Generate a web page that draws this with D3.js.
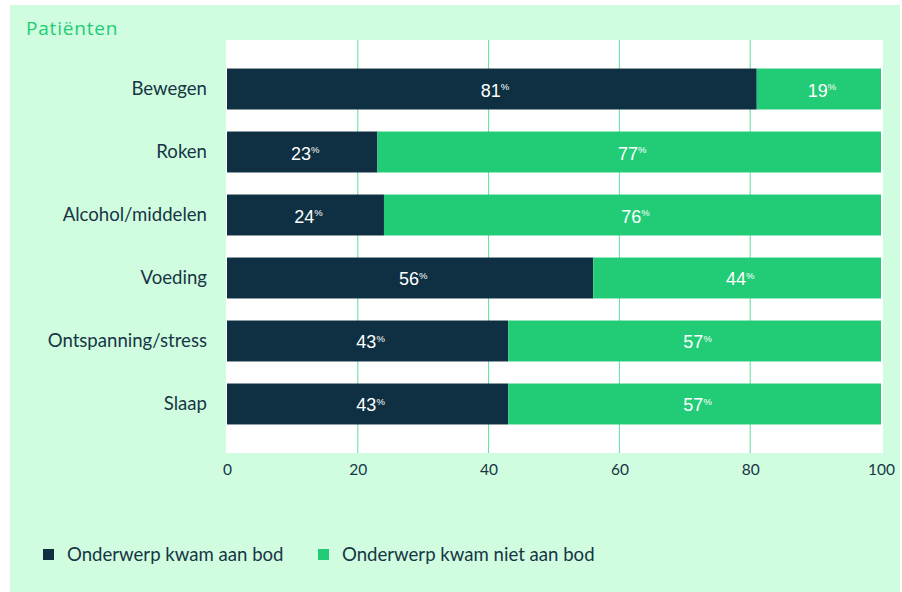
<!DOCTYPE html>
<html>
<head>
<meta charset="utf-8">
<script src="https://cdn.jsdelivr.net/npm/d3@7"></script>
<style>
  html, body { margin: 0; padding: 0; background: #ffffff; }
  svg { display: block; }
</style>
</head>
<body>
<svg id="chart" width="902" height="592"></svg>
<script>
// Lifestyle topics discussed with patients (percentages)
const categories = ["Bewegen", "Roken", "Alcohol/middelen", "Voeding", "Ontspanning/stress", "Slaap"];
const discussed = [81, 23, 24, 56, 43, 43];
const notDiscussed = [19, 77, 76, 44, 57, 57];
const seriesNames = ["Onderwerp kwam aan bod", "Onderwerp kwam niet aan bod"];
const tickValues = [0, 20, 40, 60, 80, 100];
const title = "Patiënten";

const colors = ["#0e3042", "#22cc77"];
const textDark = "#173545";

const svg = d3.select("#chart");

// panel background
svg.append("rect")
  .attr("x", 10).attr("y", 5).attr("width", 890).attr("height", 587)
  .attr("fill", "#d0fddf");

svg.append("text")
  .attr("x", 26).attr("y", 35)
  .attr("font-family", "'Open Sans', sans-serif")
  .attr("font-size", 19)
  .attr("letter-spacing", 0.8)
  .attr("fill", "#22cc77")
  .text(title);

const plot = { left: 226, right: 883, top: 40, bottom: 453 };

const x = d3.scaleLinear().domain([0, 100]).range([227, 881]);
const y = d3.scaleBand().domain(categories)
  .range([plot.top, plot.bottom])
  .paddingInner(0.35).paddingOuter(0.453);

// white plot area
svg.append("rect")
  .attr("x", plot.left).attr("y", plot.top)
  .attr("width", plot.right - plot.left).attr("height", plot.bottom - plot.top)
  .attr("fill", "#ffffff");

// vertical gridlines
svg.append("g").selectAll("line")
  .data(tickValues.filter(v => v > 0 && v < 100))
  .join("line")
  .attr("x1", d => x(d)).attr("x2", d => x(d))
  .attr("y1", plot.top).attr("y2", plot.bottom)
  .attr("stroke", "#5fdc9c").attr("stroke-width", 1);

// stacked series
const rows = categories.map((c, i) => ({ cat: c, a: discussed[i], b: notDiscussed[i] }));
const stack = d3.stack().keys(["a", "b"])(rows);

const layers = svg.append("g").selectAll("g")
  .data(stack).join("g")
  .attr("fill", (d, i) => colors[i]);

layers.selectAll("rect")
  .data(d => d)
  .join("rect")
  .attr("x", d => x(d[0]))
  .attr("y", d => y(d.data.cat))
  .attr("width", d => x(d[1]) - x(d[0]))
  .attr("height", y.bandwidth());

// value labels
const labels = svg.append("g");
stack.forEach(layer => {
  layer.forEach(d => {
    const v = d[1] - d[0];
    const t = labels.append("text")
      .attr("x", (x(d[0]) + x(d[1])) / 2 + 3)
      .attr("y", y(d.data.cat) + y.bandwidth() / 2 + 7.5)
      .attr("text-anchor", "middle")
      .attr("font-family", "'Liberation Sans', Arial, sans-serif")
      .attr("font-size", 18)
      .attr("fill", "#ffffff");
    t.append("tspan").text(v);
    t.append("tspan").attr("font-size", 9.5).attr("dy", -6.5).text("%");
  });
});

// category labels
svg.append("g").selectAll("text")
  .data(categories).join("text")
  .attr("x", 207)
  .attr("y", d => y(d) + y.bandwidth() / 2 + 6)
  .attr("text-anchor", "end")
  .attr("font-family", "Lato, sans-serif")
  .attr("font-size", 18.6)
  .attr("fill", textDark)
  .text(d => d);

// x axis tick labels
const xAxis = d3.axisBottom(x).tickValues(tickValues).tickSize(0).tickPadding(0);
const ax = svg.append("g").attr("transform", `translate(0, ${plot.bottom + 8})`).call(xAxis);
ax.select(".domain").remove();
ax.selectAll("text")
  .attr("font-family", "Lato, sans-serif")
  .attr("font-size", 15.5)
  .attr("fill", textDark)
  .attr("dy", "0.9em");

// legend
const legendX = [43, 318];
const legend = svg.append("g").selectAll("g")
  .data(seriesNames).join("g")
  .attr("transform", (d, i) => `translate(${legendX[i]}, 549)`);
legend.append("rect")
  .attr("width", 11).attr("height", 11)
  .attr("fill", (d, i) => colors[i]);
legend.append("text")
  .attr("x", 24).attr("y", 12)
  .attr("font-family", "Lato, sans-serif")
  .attr("font-size", 18.6)
  .attr("fill", textDark)
  .text(d => d);
</script>
</body>
</html>
